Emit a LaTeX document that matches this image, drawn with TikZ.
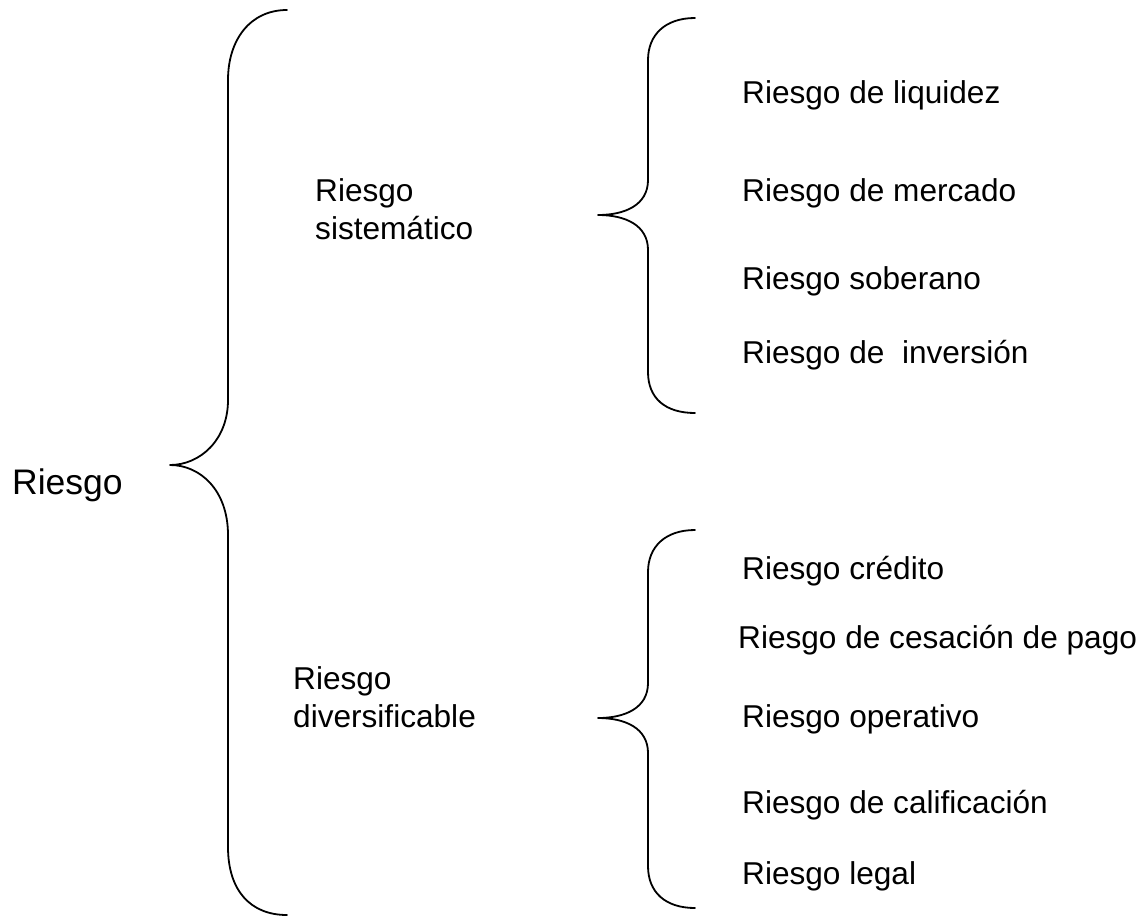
\documentclass[tikz,border=0pt]{standalone}
\usepackage{fontspec}
\setmainfont{Liberation Sans}
\begin{document}
\begin{tikzpicture}[x=1pt,y=-1pt,
  brace/.style={line width=1.8pt,line join=round,line cap=round},
  item/.style={anchor=base west,inner sep=0pt,font=\fontsize{31.6}{38}\selectfont},
  group/.style={anchor=base west,inner sep=0pt,align=left,font=\fontsize{31.6}{38}\selectfont},
  root/.style={anchor=base west,inner sep=0pt,font=\fontsize{35.5}{42}\selectfont}]
\useasboundingbox (0,0) rectangle (1147,921);

% main brace
\draw[brace] (287,10) .. controls (250,10) and (228,40) .. (228,80)
  -- (228,400) .. controls (228,440) and (200,465) .. (170,465)
  .. controls (200,465) and (228,490) .. (228,535)
  -- (228,847) .. controls (228,890) and (250,915) .. (287,915);

% upper sub-brace
\draw[brace] (695,18) .. controls (665,18) and (648,35) .. (648,60)
  -- (648,180) .. controls (648,205) and (625,215) .. (598,215)
  .. controls (625,215) and (648,225) .. (648,250)
  -- (648,372) .. controls (648,398) and (665,413) .. (695,413);

% lower sub-brace
\draw[brace] (695,530) .. controls (665,530) and (648,547) .. (648,572)
  -- (648,683) .. controls (648,708) and (625,718) .. (598,718)
  .. controls (625,718) and (648,728) .. (648,753)
  -- (648,866) .. controls (648,892) and (665,908) .. (695,908);

\node[root] (riesgo) at (12,494) {Riesgo};

% two-line labels: base anchor sits on the last line
\node[group] (sist) at (315,239) {Riesgo\\sistemático};
\node[group] (div) at (293,727) {Riesgo\\diversificable};

\node[item] (liq) at (742,103) {Riesgo de liquidez};
\node[item] (merc) at (742,201) {Riesgo de mercado};
\node[item] (sob) at (742,289) {Riesgo soberano};
\node[item] (inv) at (742,363) {Riesgo de\ \ inversión};

\node[item] (cred) at (742,579) {Riesgo crédito};
\node[item] (ces) at (738,648) {Riesgo de cesación de pago};
\node[item] (oper) at (742,727) {Riesgo operativo};
\node[item] (calif) at (742,813) {Riesgo de calificación};
\node[item] (legal) at (742,884) {Riesgo legal};
\end{tikzpicture}
\end{document}
